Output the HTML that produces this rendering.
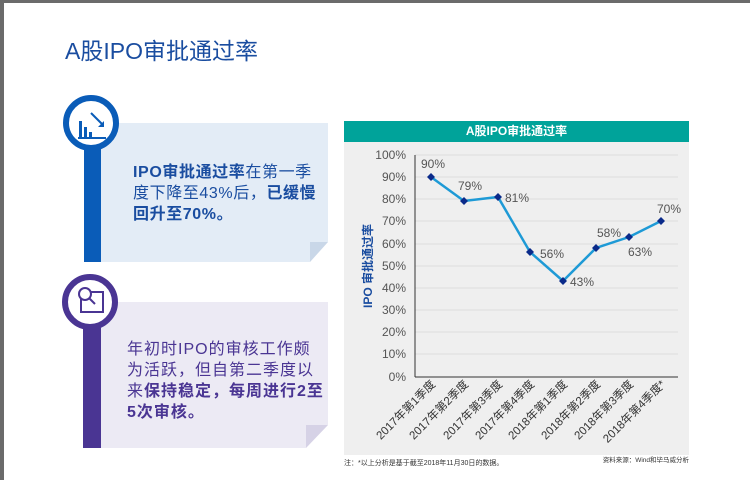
<!DOCTYPE html>
<html><head><meta charset="utf-8"><style>
body{margin:0;width:750px;height:480px;position:relative;overflow:hidden;background:#fff;font-family:"Liberation Sans","Noto Sans CJK SC",sans-serif}
.abs{position:absolute}
</style></head><body>
<div class="abs" style="left:0;top:0;width:750px;height:3px;background:#6b6b6b"></div>
<div class="abs" style="left:0;top:0;width:4px;height:480px;background:#6b6b6b"></div>
<div class="abs" style="left:65px;top:32px;font-size:23px;color:#1a4da0">A股IPO审批通过率</div>

<div class="abs" style="left:85px;top:123px;width:243px;height:139px;background:#e3ecf6"></div>
<div class="abs" style="left:310px;top:242px;width:0;height:0;border-left:18px solid #c9d7e8;border-bottom:20px solid #fff"></div>
<div class="abs" style="left:84px;top:140px;width:17px;height:122px;background:#0a5cb8"></div>
<div class="abs" style="left:63px;top:95px;width:44px;height:44px;border:6px solid #0a5cb8;border-radius:50%;background:#fff"></div>
<svg class="abs" style="left:63px;top:95px" width="56" height="56"><g fill="#0a5cb8"><rect x="16" y="26" width="3" height="16"/><rect x="21" y="32" width="3" height="10"/><rect x="26" y="37" width="3" height="5"/><rect x="15" y="42" width="28" height="2"/></g><path d="M28 18 L40 30" stroke="#0a5cb8" stroke-width="2"/><path d="M35 32 L41 32 L41 26 Z" fill="#0a5cb8"/></svg>
<div class="abs" style="left:133px;top:162px;width:200px;font-size:16px;letter-spacing:0.6px;line-height:21px;color:#1a4da0;white-space:nowrap"><b>IPO审批通过率</b>在第一季<br>度下降至43%后，<b>已缓慢</b><br><b>回升至70%。</b></div>

<div class="abs" style="left:84px;top:302px;width:244px;height:146px;background:#eceaf4"></div>
<div class="abs" style="left:306px;top:425px;width:0;height:0;border-left:22px solid #d6d2e6;border-bottom:23px solid #fff"></div>
<div class="abs" style="left:83px;top:318px;width:18px;height:130px;background:#4a3593"></div>
<div class="abs" style="left:62px;top:274px;width:44px;height:44px;border:6px solid #4a3593;border-radius:50%;background:#fff"></div>
<svg class="abs" style="left:62px;top:274px" width="56" height="56" fill="none" stroke="#4a3593" stroke-width="2"><rect x="19" y="18" width="22" height="20"/><circle cx="23" cy="20" r="6" fill="#fff"/><path d="M27 24 L33 30"/></svg>
<div class="abs" style="left:127px;top:339px;width:200px;font-size:16px;letter-spacing:1px;line-height:21px;color:#4a3593;white-space:nowrap">年初时IPO的审核工作颇<br>为活跃，但自第二季度以<br>来<b>保持稳定，每周进行2至</b><br><b>5次审核。</b></div>

<div class="abs" style="left:344px;top:121px;width:345px;height:21px;background:#00a39a;color:#fff;font-size:12px;font-weight:bold;text-align:center;line-height:21px">A股IPO审批通过率</div>
<div class="abs" style="left:344px;top:142px;width:345px;height:313px;background:#efefef"></div>
<svg class="abs" style="left:0;top:0" width="750" height="480" font-family="Liberation Sans, Noto Sans CJK SC, sans-serif">
<g stroke="#dcdcdc" stroke-width="1">
<line x1="415" x2="678" y1="155" y2="155"/><line x1="415" x2="678" y1="177" y2="177"/><line x1="415" x2="678" y1="199" y2="199"/><line x1="415" x2="678" y1="221" y2="221"/><line x1="415" x2="678" y1="244" y2="244"/><line x1="415" x2="678" y1="266" y2="266"/><line x1="415" x2="678" y1="288" y2="288"/><line x1="415" x2="678" y1="310" y2="310"/><line x1="415" x2="678" y1="332" y2="332"/><line x1="415" x2="678" y1="354" y2="354"/>
</g>
<line x1="415" x2="415" y1="155" y2="377" stroke="#333"/>
<line x1="415" x2="678" y1="377" y2="377" stroke="#333"/>
<g font-size="12" fill="#555" text-anchor="end">
<text x="406" y="159">100%</text><text x="406" y="181">90%</text><text x="406" y="203">80%</text><text x="406" y="225">70%</text><text x="406" y="248">60%</text><text x="406" y="270">50%</text><text x="406" y="292">40%</text><text x="406" y="314">30%</text><text x="406" y="336">20%</text><text x="406" y="358">10%</text><text x="406" y="381">0%</text>
</g>
<text transform="translate(372,266) rotate(-90)" font-size="12" font-weight="bold" fill="#1a4da0" text-anchor="middle">IPO 审批通过率</text>
<polyline points="431,177 464,201 498,197 530,252 563,281 596,248 629,237 661,221" fill="none" stroke="#1e9ad6" stroke-width="2.5"/>
<g fill="#0a2a8a">
<path d="M431,173 l4,4 l-4,4 l-4,-4z"/><path d="M464,197 l4,4 l-4,4 l-4,-4z"/><path d="M498,193 l4,4 l-4,4 l-4,-4z"/><path d="M530,248 l4,4 l-4,4 l-4,-4z"/><path d="M563,277 l4,4 l-4,4 l-4,-4z"/><path d="M596,244 l4,4 l-4,4 l-4,-4z"/><path d="M629,233 l4,4 l-4,4 l-4,-4z"/><path d="M661,217 l4,4 l-4,4 l-4,-4z"/>
</g>
<g font-size="12" fill="#555">
<text x="421" y="168">90%</text><text x="458" y="190">79%</text><text x="505" y="202">81%</text><text x="540" y="258">56%</text><text x="570" y="286">43%</text><text x="597" y="237">58%</text><text x="628" y="256">63%</text><text x="657" y="213">70%</text>
</g>
<g font-size="11.5" fill="#333" text-anchor="end">
<text transform="translate(436,385) rotate(-45)">2017年第1季度</text>
<text transform="translate(469,385) rotate(-45)">2017年第2季度</text>
<text transform="translate(503,385) rotate(-45)">2017年第3季度</text>
<text transform="translate(535,385) rotate(-45)">2017年第4季度</text>
<text transform="translate(568,385) rotate(-45)">2018年第1季度</text>
<text transform="translate(601,385) rotate(-45)">2018年第2季度</text>
<text transform="translate(634,385) rotate(-45)">2018年第3季度</text>
<text transform="translate(666,385) rotate(-45)">2018年第4季度*</text>
</g>
<text x="344" y="465" font-size="7" fill="#333">注：*以上分析是基于截至2018年11月30日的数据。</text>
<text x="689" y="462" font-size="6.5" fill="#333" text-anchor="end">资料来源：Wind和毕马威分析</text>
</svg>
</body></html>
